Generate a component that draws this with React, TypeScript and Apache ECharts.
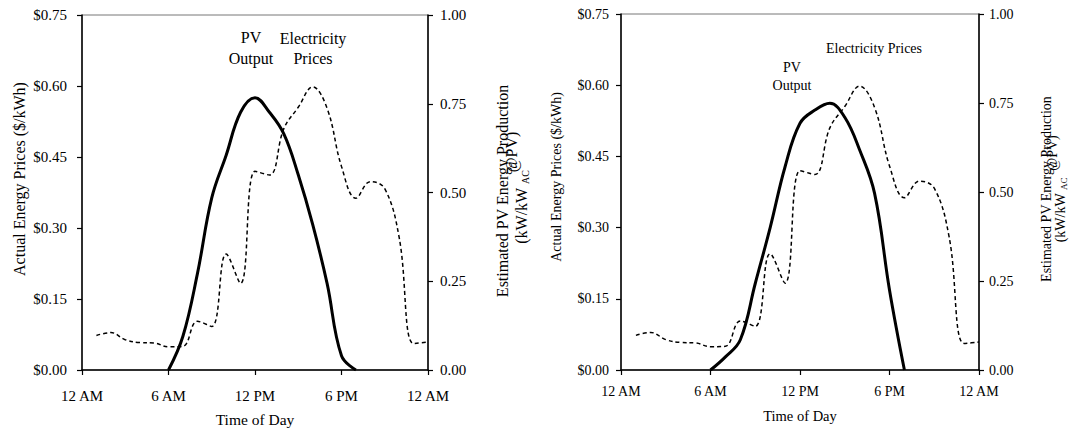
import React, { useEffect, useRef } from "react";
import * as echarts from "echarts";

const xTickLabels = ["12 AM", "6 AM", "12 PM", "6 PM", "12 AM"];

const priceHours = [1, 2, 3, 4, 5, 6, 7, 8, 9, 10, 11, 12, 13, 14, 15, 16, 17, 18, 19, 20, 21, 22, 23, 24];
const priceValues = [
  0.073, 0.079, 0.064, 0.058, 0.057, 0.049, 0.05, 0.103, 0.092, 0.245, 0.183, 0.42,
  0.412, 0.51, 0.555, 0.598, 0.553, 0.43, 0.363, 0.398, 0.383, 0.28, 0.056, 0.059,
];

const pvHours = [6, 7, 8, 9, 10, 11, 12, 13, 14, 15, 16, 17, 18, 19];
const pvLeftValues = [0, 0.095, 0.27, 0.485, 0.605, 0.726, 0.767, 0.726, 0.665, 0.55, 0.41, 0.244, 0.04, 0];
const pvRightValues = [0, 0.037, 0.085, 0.243, 0.4, 0.571, 0.693, 0.73, 0.749, 0.71, 0.618, 0.496, 0.225, 0];

const FONT = '"Liberation Serif", "Times New Roman", serif';

function makeX(gridIndex: number, fs: number, margin: number, nameGap: number) {
  return {
    type: "value",
    gridIndex,
    min: 0,
    max: 24,
    interval: 6,
    axisLine: { show: true, onZero: false, lineStyle: { color: "#000", width: 1.5 } },
    axisTick: { show: true, length: 5, lineStyle: { color: "#000", width: 1.2 } },
    splitLine: { show: false },
    axisLabel: {
      color: "#000",
      fontFamily: FONT,
      fontSize: fs,
      margin,
      formatter: (v: number) => xTickLabels[Math.round(v / 6)],
    },
    name: "Time of Day",
    nameLocation: "middle",
    nameGap,
    nameTextStyle: { color: "#000", fontFamily: FONT, fontSize: fs + 0.5 },
  };
}

function makeY(gridIndex: number, position: string, max: number, interval: number, fs: number, margin: number, dollar: boolean) {
  return {
    type: "value",
    gridIndex,
    position,
    min: 0,
    max,
    interval,
    axisLine: { show: true, onZero: false, lineStyle: { color: "#000", width: 1.5 } },
    axisTick: { show: true, length: 5, lineStyle: { color: "#000", width: 1.2 } },
    splitLine: { show: false },
    axisLabel: {
      color: "#000",
      fontFamily: FONT,
      fontSize: fs,
      margin,
      formatter: (v: number) => (dollar ? "$" : "") + v.toFixed(2),
    },
  };
}

function txt(x: number, y: number, text: string, fs: number, extra: any = {}) {
  return {
    type: "text",
    x,
    y,
    rotation: extra.rotation || 0,
    style: {
      text,
      fontFamily: FONT,
      fontSize: fs,
      fill: "#000",
      align: "center",
      verticalAlign: "middle",
      lineHeight: extra.lineHeight,
      rich: extra.rich,
    },
  };
}

export default function App() {
  const ref = useRef<HTMLDivElement>(null);

  useEffect(() => {
    document.body.style.margin = "0";
    if (!ref.current) return;
    const chart = echarts.init(ref.current, null, { renderer: "svg" });
    const priceLine = { color: "#000", width: 1.5, type: [4, 3] };
    const pvLine = { color: "#000", width: 3 };
    const R = Math.PI / 2;
    const option: any = {
      animation: false,
      backgroundColor: "#fff",
      grid: [
        { left: 82, top: 15, width: 346, height: 358, show: true, borderColor: "#777", borderWidth: 1 },
        { left: 621, top: 14, width: 358, height: 356, show: true, borderColor: "#777", borderWidth: 1 },
      ],
      xAxis: [makeX(0, 15, 18, 41), makeX(1, 14, 14, 38)],
      yAxis: [
        makeY(0, "left", 0.75, 0.15, 15, 15, true),
        makeY(0, "right", 1, 0.25, 15, 12, false),
        makeY(1, "left", 0.75, 0.15, 14, 12, true),
        makeY(1, "right", 1, 0.25, 14, 10, false),
      ],
      series: [
        {
          type: "line", xAxisIndex: 0, yAxisIndex: 0, smooth: 0.4, showSymbol: false,
          data: priceHours.map((h, i) => [h, priceValues[i]]), lineStyle: priceLine,
        },
        {
          type: "line", xAxisIndex: 0, yAxisIndex: 1, smooth: 0.4, showSymbol: false,
          data: pvHours.map((h, i) => [h, pvLeftValues[i]]), lineStyle: pvLine,
        },
        {
          type: "line", xAxisIndex: 1, yAxisIndex: 2, smooth: 0.4, showSymbol: false,
          data: priceHours.map((h, i) => [h, priceValues[i]]), lineStyle: priceLine,
        },
        {
          type: "line", xAxisIndex: 1, yAxisIndex: 3, smooth: 0.4, showSymbol: false,
          data: pvHours.map((h, i) => [h, pvRightValues[i]]), lineStyle: pvLine,
        },
      ],
      graphic: [
        txt(251, 47.5, "PV\nOutput", 16, { lineHeight: 21 }),
        txt(313, 48.5, "Electricity\nPrices", 16, { lineHeight: 20 }),
        txt(19, 179, "Actual Energy Prices ($/kWh)", 16, { rotation: R }),
        txt(502, 191, "Estimated PV Energy Production", 16, { rotation: R }),
        txt(521, 207, "(kW/kW {sub|AC}", 16, {
          rotation: R,
          lineHeight: 18,
          rich: { sub: { fontSize: 10, fontFamily: FONT, fill: "#000", verticalAlign: "bottom" } },
        }),
        txt(511, 152, "@PV)", 16, { rotation: R }),

        txt(874, 48, "Electricity Prices", 14),
        txt(792, 76, "PV\nOutput", 14, { lineHeight: 18 }),
        txt(556, 177, "Actual Energy Prices ($/kWh)", 14, { rotation: R }),
        txt(1046, 189, "Estimated PV Energy Production", 14, { rotation: R }),
        txt(1060, 210, "(kW/kW {sub|AC}", 14, {
          rotation: R,
          lineHeight: 16,
          rich: { sub: { fontSize: 9, fontFamily: FONT, fill: "#000", verticalAlign: "bottom" } },
        }),
        txt(1052, 153, "@PV)", 14, { rotation: R }),
      ],
    };
    chart.setOption(option);
    return () => chart.dispose();
  }, []);

  return <div ref={ref} style={{ width: 1070, height: 432 }} />;
}
